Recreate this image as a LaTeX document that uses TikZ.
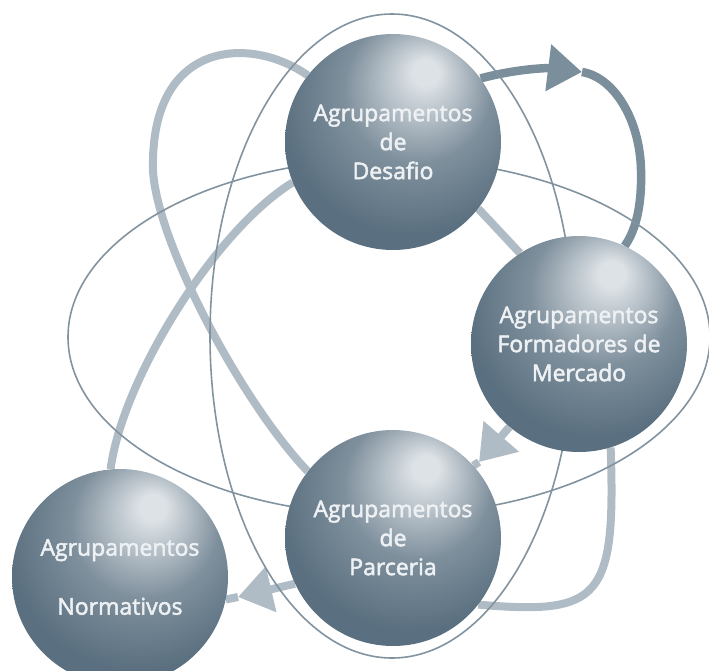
\documentclass[tikz,border=0pt]{standalone}
\usepackage{fontspec}
\setmainfont{Open Sans}
\newfontfamily\globefont[FakeBold=2.2]{Open Sans}
\usetikzlibrary{arrows.meta,backgrounds}

\definecolor{globeHi}{HTML}{DDE2E6}
\definecolor{globeMid}{HTML}{7F909D}
\definecolor{globeLo}{HTML}{5A6F7F}
\definecolor{flowLight}{HTML}{B0BCC5}
\definecolor{flowDark}{HTML}{7B8E9C}
\definecolor{orbitLine}{HTML}{8293A0}
\definecolor{globeText}{HTML}{EEF1F3}

\pgfdeclareradialshading{sphereshade}{\pgfpoint{8bp}{17bp}}{color(0bp)=(globeHi); color(3bp)=(globeHi); color(17bp)=(globeMid); color(30bp)=(globeLo); color(60bp)=(globeLo)}

\tikzset{
  globe/.style={circle, minimum size=216pt, inner sep=0pt, shade, shading=sphereshade, text=globeText, align=center, font=\globefont\fontsize{23}{29}\selectfont},
  orbit/.style={draw=orbitLine, line width=1.6pt},
  flow/.style={draw=flowLight, line width=8pt},
  darkflow/.style={draw=flowDark, line width=8.5pt},
  head/.style={-{Triangle[length=34pt,width=45pt]}}
}

\begin{document}
\begin{tikzpicture}[x=1pt,y=-1pt]
	\useasboundingbox (0,0) rectangle (709,670);

	\draw [orbit] (389,337) ellipse [x radius=321, y radius=178];
	\draw [orbit] (392,336) ellipse [x radius=182, y radius=322];

	\node [globe] at (393,142) (desafio)    {Agrupamentos\\de\\Desafio};
	\node [globe] at (579,344) (mercado)    {Agrupamentos\\Formadores de\\Mercado};
	\node [globe] at (393,538) (parceria)   {Agrupamentos\\de\\Parceria};
	\node [globe] at (120,577) (normativos) {Agrupamentos\\[30pt]Normativos};

	\coordinate (tipC) at (582,72);
	\coordinate (tipE) at (479,462);
	\coordinate (tipG) at (238,597);

	\begin{scope}[on background layer]
		\draw [flow] (desafio.142) .. controls (250,35) and (150,40) .. (153,170) .. controls (156,240) and (240,400) .. (parceria.142);
		\draw [flow] (normativos.95) .. controls (122,380) and (215,230) .. (desafio.202);
		\draw [flow] (desafio.-38) -- (mercado.123);
		\draw [darkflow,head] (desafio.36) .. controls (520,68) and (550,68) .. (tipC);
		\draw [darkflow] (tipC) .. controls (614,77) and (640,120) .. (641,170) .. controls (642,205) and (636,230) .. (mercado.65);
		\draw [flow,head] (mercado.230) -- (tipE);
		\draw [flow] (tipE) -- (parceria.42);
		\draw [flow] (mercado.287) .. controls (616,600) and (600,615) .. (parceria.-38);
		\draw [flow,head] (parceria.205) -- (tipG);
		\draw [flow] (tipG) -- (normativos.-12);
	\end{scope}
\end{tikzpicture}
\end{document}
